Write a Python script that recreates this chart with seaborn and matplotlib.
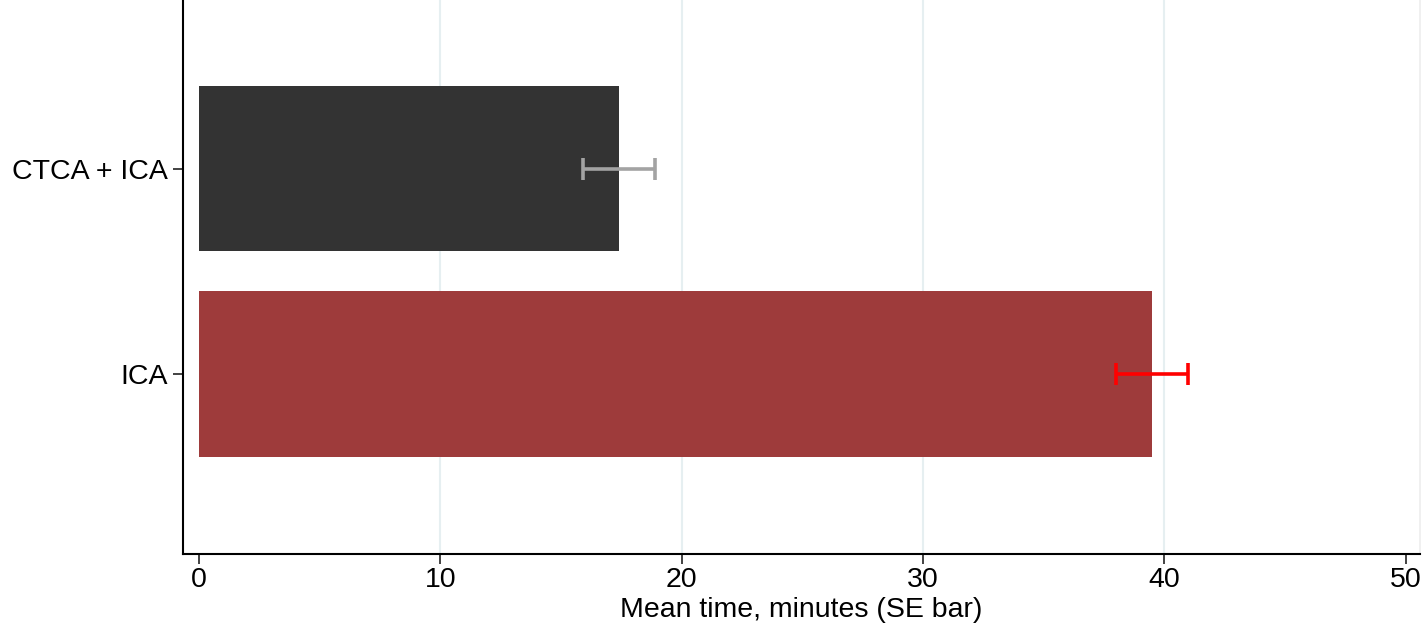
import numpy as np
import pandas as pd
import seaborn as sns
import matplotlib.pyplot as plt

groups = ['CTCA + ICA', 'ICA']
mean_time = [17.4, 39.5]
se_time = [1.5, 1.5]
bar_colors = ['#333333', '#9e3b3b']
err_colors = ['#a3a3a3', '#ff0000']

df = pd.DataFrame({'group': groups, 'mean': mean_time, 'se': se_time})

sns.set_style('white')
plt.rcParams['font.family'] = ['Liberation Sans', 'DejaVu Sans']

fig = plt.figure(figsize=(14.22, 6.28), dpi=100)
ax = fig.add_axes([0.1287, 0.1178, 0.8699, 0.8822])

sns.barplot(data=df, x='mean', y='group', hue='group', palette=bar_colors,
            order=groups, hue_order=groups, orient='h', width=0.805,
            errorbar=None, legend=False, saturation=1, linewidth=0, ax=ax)

for i, (m, s) in enumerate(zip(mean_time, se_time)):
    ax.errorbar(m, i, xerr=s, fmt='none', ecolor=err_colors[i],
                elinewidth=2.6, capsize=8, capthick=2.6, zorder=5)

ax.set_xlim(-0.66, 50.6)
ax.set_ylim(1.878, -0.824)
ax.set_xticks([0, 10, 20, 30, 40, 50])
ax.xaxis.grid(True, color='#e6eff1', linewidth=1.5)
ax.set_axisbelow(True)
# gridlines only inside: none at 0 or 50
grid = ax.get_xgridlines()
grid[0].set_visible(False)
grid[-1].set_visible(False)

ax.set_xlabel('Mean time, minutes (SE bar)', fontsize=20.5, labelpad=3,
              color='black')
ax.set_ylabel('')
ax.tick_params(axis='both', labelsize=20.5, length=7, width=1.2,
               direction='out', color='#222222', labelcolor='black',
               left=True, bottom=True)
ax.tick_params(axis='x', pad=2)
ax.tick_params(axis='y', pad=4)

ax.spines['top'].set_visible(False)
ax.spines['right'].set_color('#eeeeee')
ax.spines['right'].set_linewidth(1.2)
for side in ['left', 'bottom']:
    ax.spines[side].set_color('black')
    ax.spines[side].set_linewidth(1.5)

plt.savefig('out.png', dpi=100)
